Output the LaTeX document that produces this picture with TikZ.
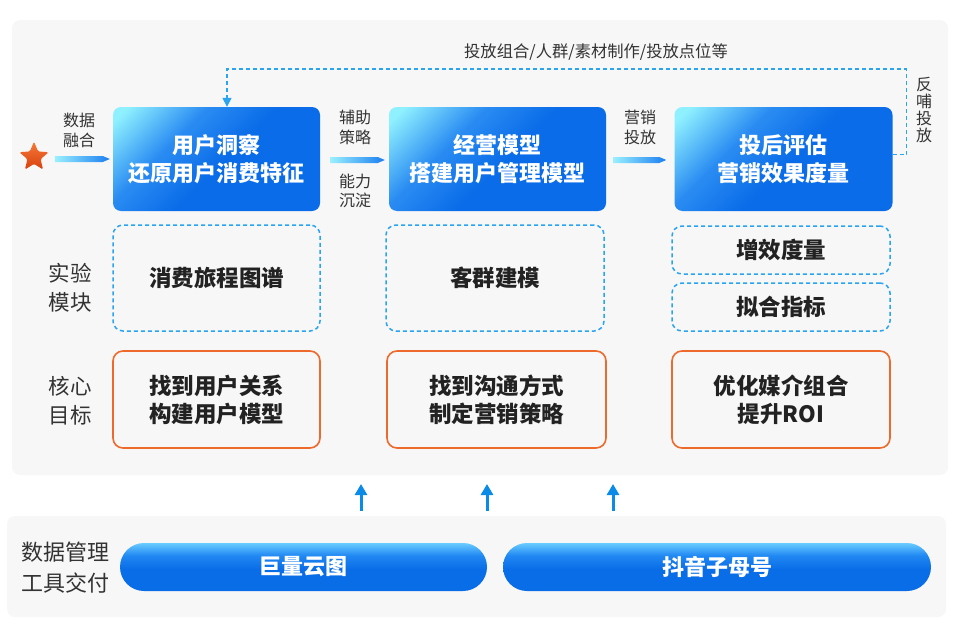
\documentclass[tikz,border=0pt]{standalone}
\usepackage{fontspec}
\setmainfont{Noto Sans CJK SC}
\usetikzlibrary{shapes.geometric,arrows.meta,calc}
\definecolor{panelc}{HTML}{F7F7F7}
\definecolor{txt}{HTML}{333333}
\definecolor{txtb}{HTML}{222222}
\definecolor{dashblue}{HTML}{2AA4F0}
\definecolor{orng}{HTML}{EE6A2C}
\definecolor{bxA}{HTML}{8FF0FF}
\definecolor{bxB}{HTML}{2A8CF2}
\definecolor{bxC}{HTML}{0A6CE8}
\definecolor{pA}{HTML}{6ACBFF}
\definecolor{pB}{HTML}{2088F2}
\definecolor{pC}{HTML}{0A6DE8}
\definecolor{gA}{HTML}{9AF0FF}
\definecolor{gB}{HTML}{1A7EF0}
\definecolor{arrblue}{HTML}{0A8BE8}
\definecolor{starA}{HTML}{F57A3A}
\definecolor{starB}{HTML}{D8400C}
\pgfdeclarehorizontalshading{boxsh}{100bp}{color(0bp)=(bxA); color(18bp)=(bxA); color(36bp)=(bxB); color(52bp)=(bxC); color(100bp)=(bxC)}
\pgfdeclareverticalshading{pillsh}{100bp}{color(0bp)=(pC); color(48bp)=(pC); color(62bp)=(pB); color(75bp)=(pA); color(100bp)=(pA)}
\newcommand{\gradarrow}[2]{%
  \path[left color=gA, right color=gB] let \p1=(#1), \p2=(#2) in
    (\x1,\y1+3pt) -- (\x2-7pt,\y2+3pt) -- (\x2,\y2) -- (\x2-7pt,\y2-3pt) -- (\x1,\y1-3pt) -- cycle;}
\begin{document}
\begin{tikzpicture}[x=1pt,y=-1pt,
  panelbox/.style={fill=panelc, rounded corners=8pt, draw=none, inner sep=0pt},
  bluebox/.style={shading=boxsh, shading angle=-45, rounded corners=8pt, minimum height=104pt,
    text=white, align=center, font=\fontsize{22}{28}\selectfont\bfseries, inner sep=0pt},
  dashbox/.style={draw=dashblue, line width=1.5pt, dash pattern=on 4pt off 3pt, rounded corners=10pt,
    text=txtb, align=center, font=\fontsize{22.5}{28}\selectfont\bfseries, inner sep=0pt},
  orangebox/.style={draw=orng, line width=1.6pt, rounded corners=10pt, minimum height=97pt,
    text=txtb, align=center, font=\fontsize{22.5}{28}\selectfont\bfseries, inner sep=0pt},
  sidelabel/.style={text=txt, align=center, font=\fontsize{21.5}{29}\selectfont, inner sep=0pt},
  smalllabel/.style={text=txt, align=center, font=\fontsize{16}{19.5}\selectfont, inner sep=0pt},
  pill/.style={shading=pillsh, rounded corners=24pt, minimum height=48pt, text=white,
    font=\fontsize{22}{26}\selectfont\bfseries, inner sep=0pt},
  fbline/.style={draw=dashblue, line width=1.5pt, dash pattern=on 4pt off 3pt,
    -{Triangle[width=9pt,length=9pt]}},
  uparr/.style={draw=arrblue, line width=3pt, -{Triangle[width=12pt,length=11pt]}}
]
\useasboundingbox (0,0) rectangle (960,637);
% panels
\node[panelbox, minimum width=936pt, minimum height=455pt] (toppanel) at (480,247.5) {};
\node[panelbox, minimum width=939pt, minimum height=101pt] (botpanel) at (476.5,566.5) {};
% star
\node[star, star points=5, star point ratio=2.25, minimum size=31pt, inner sep=0pt,
  top color=starA, bottom color=starB, rounded corners=1.5pt] (star) at (34,157) {};
% row 1
\node[bluebox, minimum width=207pt] (c1) at (216.5,159) {用户洞察\\还原用户消费特征};
\node[bluebox, minimum width=217pt] (c2) at (497.5,159) {经营模型\\搭建用户管理模型};
\node[bluebox, minimum width=218pt] (c3) at (783.5,159) {投后评估\\营销效果度量};
% row 2
\node[dashbox, minimum width=207pt, minimum height=106pt] (d1) at (216.5,278) {消费旅程图谱};
\node[dashbox, minimum width=218pt, minimum height=106pt] (d2) at (495,278) {客群建模};
\node[dashbox, minimum width=218pt, minimum height=48pt] (d3a) at (781,250) {增效度量};
\node[dashbox, minimum width=218pt, minimum height=48pt] (d3b) at (781,307) {拟合指标};
% row 3
\node[orangebox, minimum width=207pt] (e1) at (216.5,399.5) {找到用户关系\\构建用户模型};
\node[orangebox, minimum width=219pt] (e2) at (496.5,399.5) {找到沟通方式\\制定营销策略};
\node[orangebox, minimum width=218pt] (e3) at (781,399.5) {优化媒介组合\\提升ROI};
% side labels
\node[sidelabel] (l2) at (70,287.5) {实验\\模块};
\node[sidelabel] (l3) at (70,400.5) {核心\\目标};
\node[smalllabel] (ldata) at (79,130.5) {数据\\融合};
\node[smalllabel] (lfz) at (355,127.5) {辅助\\策略};
\node[smalllabel] (lnl) at (355,191) {能力\\沉淀};
\node[smalllabel] (lyx) at (640,127.5) {营销\\投放};
\node[text=txt, font=\fontsize{16.3}{19}\selectfont, inner sep=0pt] (ltop) at (596,52) {投放组合/人群/素材制作/投放点位等};
\node[text=txt, align=center, font=\fontsize{16}{16.7}\selectfont, inner sep=0pt] (lfb) at (924,110) {反\\哺\\投\\放};
% gradient arrows
\coordinate (a1s) at ($(c1.west)+(-58,0)$);
\coordinate (a1e) at ($(c1.west)+(-3,0)$);
\coordinate (a2s) at ($(c1.east)+(10,1)$);
\coordinate (a2e) at ($(c2.west)+(-4,1)$);
\coordinate (a3s) at ($(c2.east)+(7,1)$);
\coordinate (a3e) at ($(c3.west)+(-8,1)$);
\gradarrow{a1s}{a1e}
\gradarrow{a2s}{a2e}
\gradarrow{a3s}{a3e}
% feedback loop
\coordinate (fbs) at ($(c3.east)+(0,-4.5)$);
\coordinate (fbc) at (227,69);
\draw[fbline] (fbs) -- ++(14,0) |- (fbc) -- (fbc |- c1.north);
% bottom
\node[sidelabel, font=\fontsize{22}{31}\selectfont] (lbot) at (65.5,567.5) {数据管理\\工具交付};
\node[pill, minimum width=367pt] (p1) at (303.5,567) {巨量云图};
\node[pill, minimum width=428pt] (p2) at (717,567) {抖音子母号};
% up arrows
\coordinate (u1s) at (361,511); \coordinate (u1e) at (361,484);
\coordinate (u2s) at (487,511); \coordinate (u2e) at (487,484);
\coordinate (u3s) at (613,511); \coordinate (u3e) at (613,484);
\draw[uparr] (u1s) -- (u1e);
\draw[uparr] (u2s) -- (u2e);
\draw[uparr] (u3s) -- (u3e);
\end{tikzpicture}
\end{document}
